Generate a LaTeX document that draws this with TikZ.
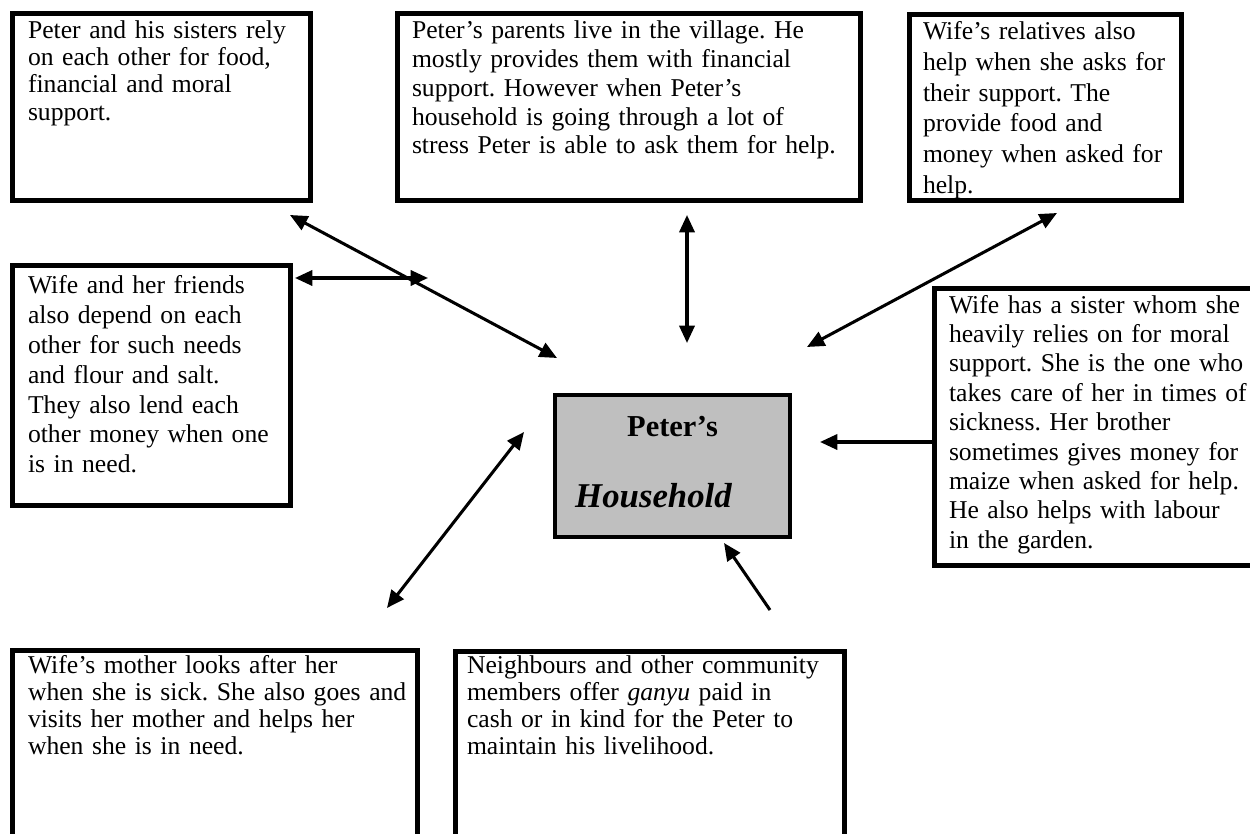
\documentclass[tikz,border=0pt]{standalone}
\usepackage{fontspec}
\setmainfont{Liberation Serif}
\usetikzlibrary{arrows.meta}
\newdimen\unitpx
\unitpx=0.46pt
\frenchspacing

\begin{document}
\begin{tikzpicture}[x=0.46pt, y=-0.46pt,
    >={Triangle[length=8pt,width=7pt]},
    infobox/.style={rectangle, draw, line width=2.3pt, anchor=north west, align=left, inner xsep=3\unitpx, inner ysep=0pt, outer sep=0pt},
    textpad/.style={execute at begin node={\leftskip=#1\unitpx}},
    housebox/.style={rectangle, draw, line width=1.6pt, fill=black!25, anchor=north west, align=center, inner sep=0pt, outer sep=0pt},
    link/.style={line width=1.4pt}]
    \useasboundingbox (0,0) rectangle (1250,834);
    \clip (0,0) rectangle (1250,834);

    \node[infobox, textpad=12.5, text width=292\unitpx, text height=25\unitpx, text depth=162\unitpx, font=\fontsize{11.8}{12.5}\selectfont] (sisters) at (12.5,13.5) {Peter and his sisters rely\\on each other for food,\\financial and moral\\support.};
    \node[infobox, textpad=11.5, text width=457\unitpx, text height=25.5\unitpx, text depth=161.5\unitpx, font=\fontsize{11.8}{13.2}\selectfont] (parents) at (397.5,13.5) {Peter’s parents live in the village. He\\mostly provides them with financial\\support. However when Peter’s\\household is going through a lot of\\stress Peter is able to ask them for help.};
    \node[infobox, textpad=10.5, text width=266\unitpx, text height=24.8\unitpx, text depth=161.2\unitpx, font=\fontsize{11.8}{14.2}\selectfont] (relatives) at (909.5,14.5) {Wife’s relatives also\\help when she asks for\\their support. The\\provide food and\\money when asked for\\help.};
    \node[infobox, textpad=12.5, text width=271.5\unitpx, text height=28.5\unitpx, text depth=211.5\unitpx, font=\fontsize{11.8}{13.7}\selectfont] (friends) at (12.5,265.5) {Wife and her friends\\also depend on each\\other for such needs\\and flour and salt.\\They also lend each\\other money when one\\is in need.};
    \node[infobox, textpad=11.5, text width=328\unitpx, text height=24.3\unitpx, text depth=252.2\unitpx, font=\fontsize{11.8}{13.5}\selectfont] (sister) at (934.5,289) {Wife has a sister whom she\\heavily relies on for moral\\support. She is the one who\\takes care of her in times of\\sickness. Her brother\\sometimes gives money for\\maize when asked for help.\\He also helps with labour\\in the garden.};
    \node[infobox, textpad=12.5, text width=399\unitpx, text height=22.8\unitpx, text depth=250\unitpx, font=\fontsize{11.8}{12.5}\selectfont] (mother) at (12.5,650.5) {Wife’s mother looks after her\\when she is sick. She also goes and\\visits her mother and helps her\\when she is in need.};
    \node[infobox, textpad=8.5, text width=383\unitpx, text height=21.8\unitpx, text depth=250\unitpx, font=\fontsize{11.8}{12.5}\selectfont] (neighbours) at (455.5,651.5) {Neighbours and other community\\members offer \textit{ganyu} paid in\\cash or in kind for the Peter to\\maintain his livelihood.};

    \node[housebox, text width=235\unitpx, text height=41\unitpx, text depth=101\unitpx, font=\fontsize{14}{33.1}\selectfont\bfseries] (house) at (555,395) {Peter’s\\{\fontsize{16}{33.1}\selectfont\itshape Household\hspace*{38\unitpx}\null}};

    \coordinate (sisters-a) at (290,215);
    \coordinate (sisters-b) at (557,358);
    \coordinate (friends-a) at (295,278);
    \coordinate (friends-b) at (428,278);
    \coordinate (parents-a) at (687,215);
    \coordinate (parents-b) at (687,343);
    \coordinate (relatives-a) at (1057,213);
    \coordinate (relatives-b) at (807,347);
    \coordinate (sister-b) at (820,442);
    \coordinate (mother-a) at (524,432);
    \coordinate (mother-b) at (387,608);
    \coordinate (neighbours-a) at (770,610);
    \coordinate (neighbours-b) at (724,543);

    \draw[link, <->] (sisters-a) -- (sisters-b);
    \draw[link, <->] (friends-a) -- (friends-b);
    \draw[link, <->] (parents-a) -- (parents-b);
    \draw[link, <->] (relatives-a) -- (relatives-b);
    \draw[link, ->] (sister-b -| sister.west) -- (sister-b);
    \draw[link, <->] (mother-a) -- (mother-b);
    \draw[link, ->] (neighbours-a) -- (neighbours-b);
\end{tikzpicture}
\end{document}
